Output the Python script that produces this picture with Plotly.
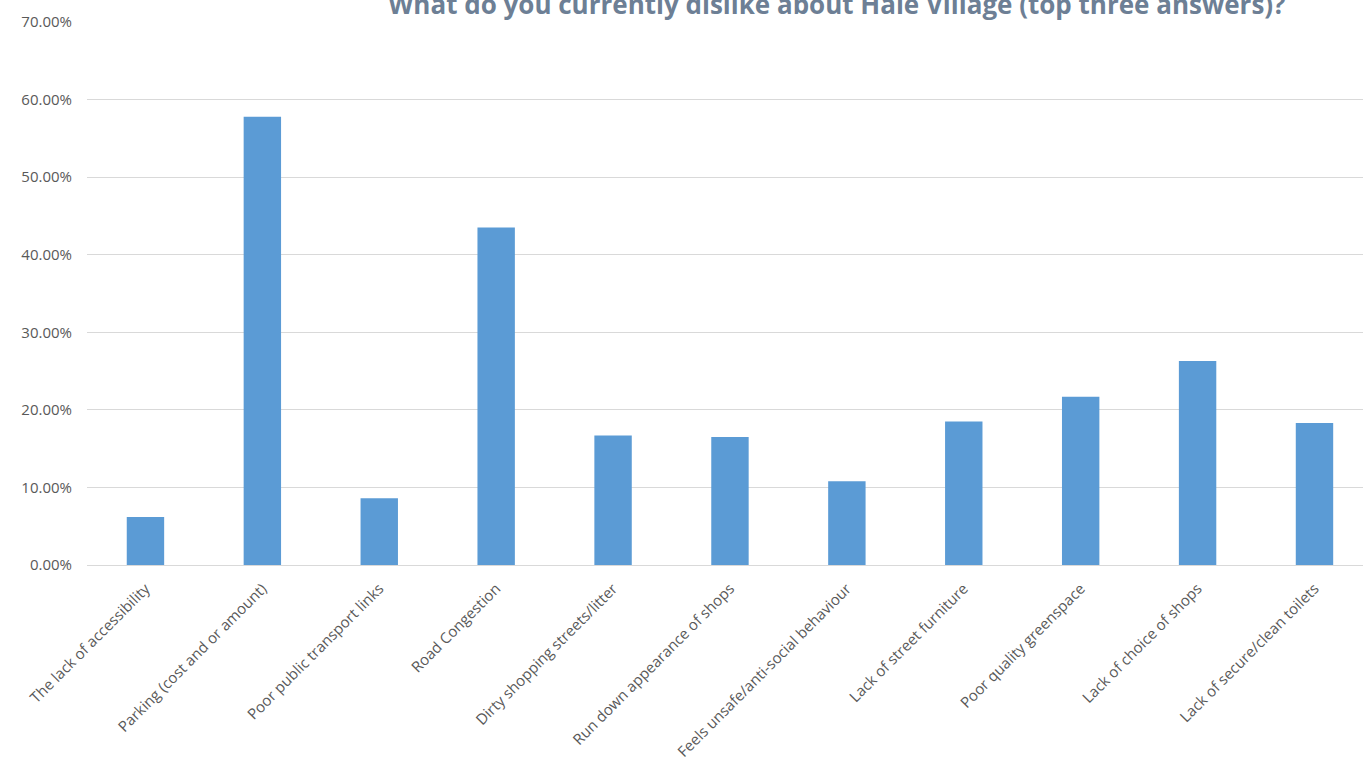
import plotly.graph_objects as go

categories = [
    "The lack of accessibility",
    "Parking (cost and or amount)",
    "Poor public transport links",
    "Road Congestion",
    "Dirty shopping streets/litter",
    "Run down appearance of shops",
    "Feels unsafe/anti-social behaviour",
    "Lack of street furniture",
    "Poor quality greenspace",
    "Lack of choice of shops",
    "Lack of secure/clean toilets",
]
values = [0.062, 0.578, 0.086, 0.435, 0.167, 0.165, 0.108, 0.185, 0.217, 0.263, 0.183]

title_text = "What do you currently dislike about Hale Village (top three answers)?"
y_ticks = [0, 0.1, 0.2, 0.3, 0.4, 0.5, 0.6, 0.7]

fig = go.Figure(
    go.Bar(
        x=categories,
        y=values,
        marker=dict(color="#5b9bd5", line=dict(width=0)),
        width=0.32,
    )
)

fig.update_layout(
    width=1363,
    height=767,
    paper_bgcolor="white",
    plot_bgcolor="white",
    margin=dict(l=87, r=0, t=22, b=202),
    showlegend=False,
    font=dict(family="Open Sans", color="#595959", size=15),
    title=dict(
        text="<b>" + title_text + "</b>",
        x=0.614,
        xanchor="center",
        y=0.994,
        yanchor="middle",
        font=dict(family="Open Sans", size=26, color="#6d7f95"),
    ),
)

fig.update_yaxes(
    range=[0, 0.7],
    tickvals=y_ticks,
    tickformat=".2%",
    showgrid=True,
    gridcolor="#d9d9d9",
    gridwidth=1,
    zeroline=False,
    showline=False,
    ticks="",
    ticklabelstandoff=14,
    tickfont=dict(size=15, color="#595959"),
)
fig.update_xaxes(
    range=[-0.5, 10.415],
    tickangle=-45,
    showline=True,
    linecolor="#d9d9d9",
    linewidth=1,
    ticks="",
    ticklabelstandoff=8,
    tickfont=dict(size=15, color="#595959"),
)

fig.write_html("out.html")
